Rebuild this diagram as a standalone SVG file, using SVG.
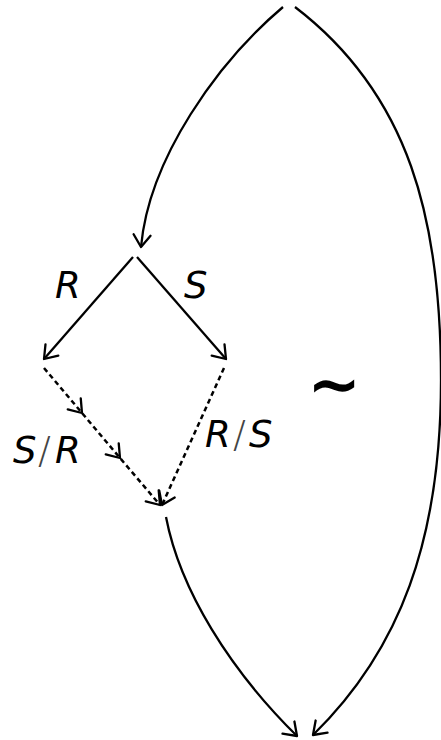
<svg xmlns="http://www.w3.org/2000/svg" width="441" height="740" viewBox="0 0 441 740">
<style>
.c{fill:none;stroke:#000;stroke-width:2.3}
.d{fill:none;stroke:#000;stroke-width:2.5;stroke-dasharray:5 3.5}
.t{font-family:"DejaVu Sans",sans-serif;font-style:italic;fill:#000;font-size:37px}
.s{font-family:"DejaVu Sans",sans-serif;font-style:normal;font-weight:200;fill:#444;font-size:38px}
</style>
<defs>
<marker id="ah" markerUnits="userSpaceOnUse" markerWidth="30" markerHeight="30" viewBox="-15 -15 30 30" refX="0" refY="0" orient="auto">
<path d="M-12,-8.5 L0,0 L-12,8.5" fill="none" stroke="#000" stroke-width="2.3" stroke-linejoin="round" stroke-linecap="round"/>
</marker>
</defs>
<rect width="441" height="740" fill="#fff"/>
<g id="connectors">
<path class="c" d="M283,7 C218,62 149,158 141,247" marker-end="url(#ah)"/>
<path class="c" d="M295,7 C410,95 441,220 441,380 C441,540 400,650 313,735" marker-end="url(#ah)"/>
<path class="c" d="M166,517 C180,590 230,670 297,736" marker-end="url(#ah)"/>
<path class="c" d="M133,257 L44,359" marker-end="url(#ah)"/>
<path class="c" d="M137,257 L226,359" marker-end="url(#ah)"/>
<polyline class="d" points="44,368 82,413 120,458 160,505" marker-mid="url(#ah)" marker-end="url(#ah)"/>
<path class="d" d="M224,368 L162,505" marker-end="url(#ah)"/>
</g>
<g id="label-R"><text class="t" x="55" y="298">R</text></g>
<g id="label-S"><text class="t" x="184" y="298">S</text></g>
<g id="label-SR"><text class="t" x="13" y="463">S<tspan class="s" x="38">/</tspan><tspan x="55">R</tspan></text></g>
<g id="label-RS"><text class="t" x="205" y="447">R<tspan class="s" x="233">/</tspan><tspan x="249">S</tspan></text></g>
<g id="sim"><text x="334" y="406" font-size="64" font-weight="bold" text-anchor="middle" font-family="DejaVu Sans,sans-serif">∼</text></g>
</svg>
